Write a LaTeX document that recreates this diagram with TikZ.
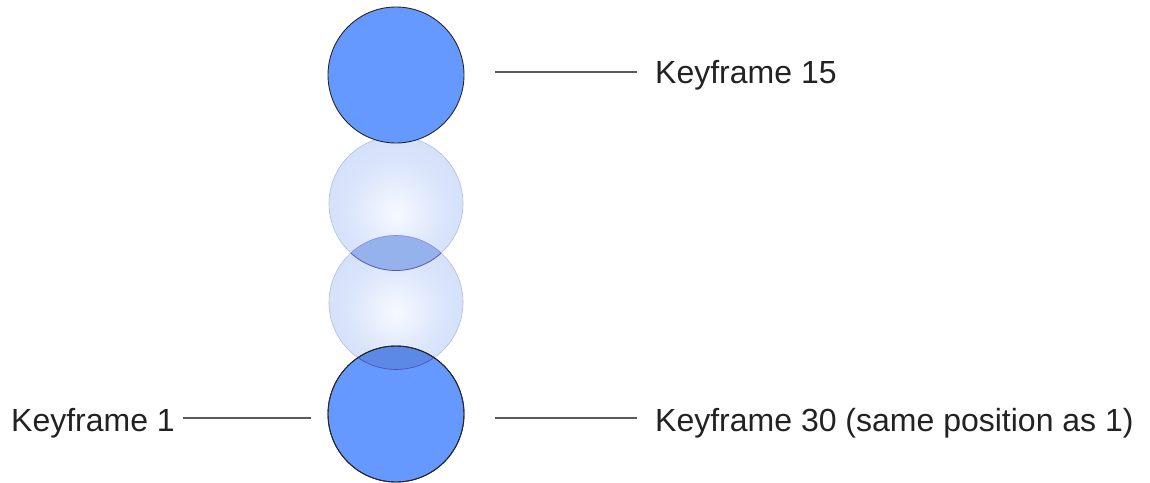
\documentclass[tikz,border=0pt]{standalone}
\usepackage{fontspec}
\setmainfont{Liberation Sans}
\definecolor{mblue}{RGB}{102,153,255}
\definecolor{gin}{RGB}{246,249,255}
\definecolor{gmid}{RGB}{218,229,251}
\definecolor{gout}{RGB}{196,213,248}
\definecolor{gline}{RGB}{175,190,222}
\definecolor{lensA}{RGB}{150,178,236}
\definecolor{txt}{RGB}{34,34,34}
\definecolor{leadc}{RGB}{90,90,90}
\pgfdeclareradialshading{ghostshade}{\pgfpoint{0bp}{-4bp}}{color(0bp)=(gin); color(18bp)=(gmid); color(50bp)=(gout)}
\tikzset{
  solidball/.style={circle, draw=black!85, line width=0.9pt, fill=mblue, minimum size=136pt, inner sep=0pt},
  ghostball/.style={circle, shading=ghostshade, draw=gline, line width=0.6pt, minimum size=134pt, inner sep=0pt},
  lbl/.style={font=\fontsize{32}{36}\selectfont, text=txt, inner sep=0pt},
  lead/.style={draw=leadc, line width=1.1pt}
}
\begin{document}
\begin{tikzpicture}[x=1pt,y=-1pt]
\useasboundingbox (0,0) rectangle (1150,482);
% ghosts (under solid circles)
\node[ghostball] (g1) at (396,203.5) {};
\node[ghostball] (g2) at (396,302.5) {};
% lens between ghosts
\begin{scope}
  \clip (g1.center) circle (67pt);
  \fill[lensA] (g2.center) circle (67pt);
\end{scope}
\begin{scope}
  \clip (g2.center) circle (67pt);
  \draw[draw=gray!70!blue, line width=0.8pt] (g1.center) circle (67pt);
\end{scope}
\begin{scope}
  \clip (g1.center) circle (67pt);
  \draw[draw=gray!50!blue!60, line width=0.6pt] (g2.center) circle (67pt);
\end{scope}
% solid circles
\node[solidball] (k15) at (396,75) {};
\node[solidball] (k1) at (396,414) {};
% ghost 2 over bottom circle
\begin{scope}
  \clip (k1.center) circle (68pt);
  \fill[black, opacity=0.1] (g2.center) circle (67pt);
  \draw[gray!60!blue, line width=0.6pt] (g2.center) circle (67pt);
\end{scope}
\draw[black!85, line width=0.9pt] (k1.center) circle (68pt);
% labels
\node[lbl, anchor=base west] (t15) at (655,83.5) {Keyframe 15};
\node[lbl, anchor=base west] (t1) at (11,431) {Keyframe 1};
\node[lbl, anchor=base west] (t30) at (655,431) {Keyframe 30 (same position as 1)};
% leader lines
\coordinate (a15) at (495,72);
\coordinate (b15) at (637,72);
\coordinate (a1) at (183,418);
\coordinate (b1) at (311,418);
\coordinate (a30) at (495,418);
\coordinate (b30) at (637,418);
\draw[lead] (a15) -- (b15);
\draw[lead] (a1) -- (b1);
\draw[lead] (a30) -- (b30);
\end{tikzpicture}
\end{document}
